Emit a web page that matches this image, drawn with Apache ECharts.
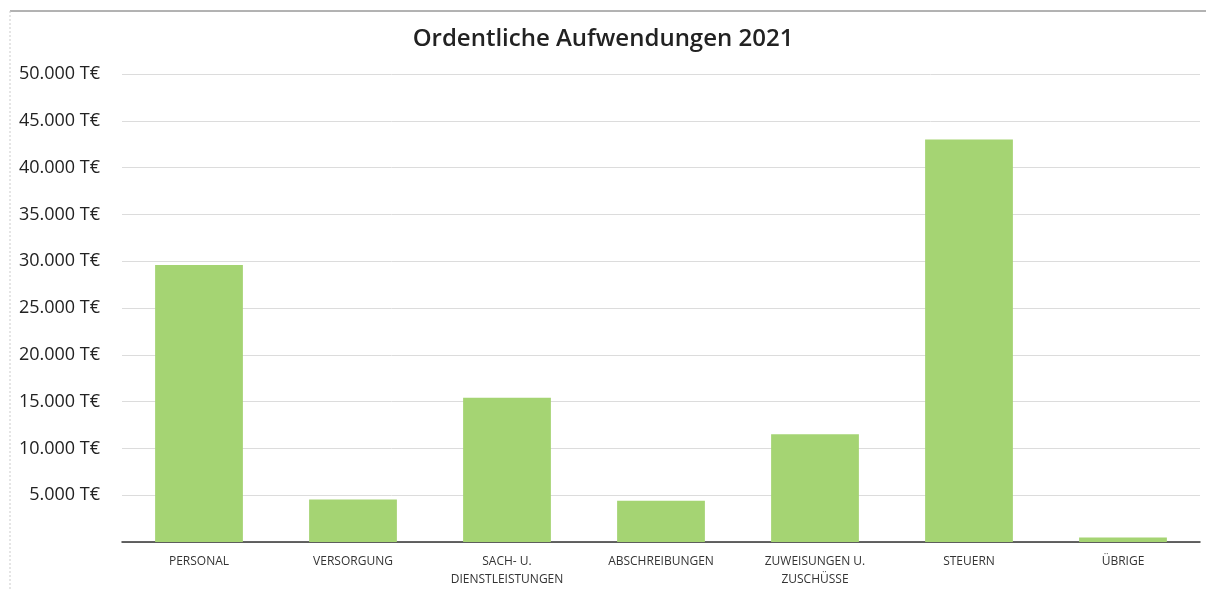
<!DOCTYPE html>
<html><head><meta charset="utf-8">
<script src="https://cdn.jsdelivr.net/npm/echarts@6/dist/echarts.min.js"></script>
<style>html,body{margin:0;padding:0;background:#fff}#c{width:1206px;height:589px}</style>
</head><body><div id="c"></div>
<script>
const title = 'Ordentliche Aufwendungen 2021';
const categories = ['PERSONAL','VERSORGUNG','SACH- U.\nDIENSTLEISTUNGEN','ABSCHREIBUNGEN','ZUWEISUNGEN U.\nZUSCHÜSSE','STEUERN','ÜBRIGE'];
const values = [29600, 4550, 15400, 4400, 11500, 43000, 470];
const yMin = 0, yMax = 50000, yStep = 5000;

const chart = echarts.init(document.getElementById('c'));
chart.setOption({
  animation:false,
  backgroundColor:'#fff',
  title:{text:title,left:'center',top:22,textStyle:{fontFamily:'Open Sans',fontSize:24,fontWeight:600,color:'#222'}},
  graphic:[
    {type:'line',shape:{x1:10,y1:11,x2:1206,y2:11},style:{stroke:'#666',lineWidth:1}},
    {type:'line',shape:{x1:10,y1:11,x2:10,y2:589},style:{stroke:'#ccc',lineWidth:1,lineDash:[2,2]}}
  ],
  grid:{left:122,right:6,top:74,bottom:37},
  xAxis:{type:'category',data:categories,
    axisLine:{lineStyle:{color:'#333',width:1.5}},axisTick:{show:false},
    axisLabel:{interval:0,fontFamily:'Open Sans',fontSize:12,color:'#333',margin:11,lineHeight:18}},
  yAxis:{type:'value',min:yMin,max:yMax,interval:yStep,
    axisLine:{show:false},axisTick:{show:false},
    splitLine:{lineStyle:{color:'#dcdcdc',width:1}},
    axisLabel:{margin:22,fontFamily:'Open Sans',fontSize:18,color:'#222',
      formatter:v=> v===0 ? '' : v.toLocaleString('de-DE')+' T€'}},
  series:[{type:'bar',data:values,barCategoryGap:'43%',itemStyle:{color:'#A5D473'}}]
});
</script></body></html>
